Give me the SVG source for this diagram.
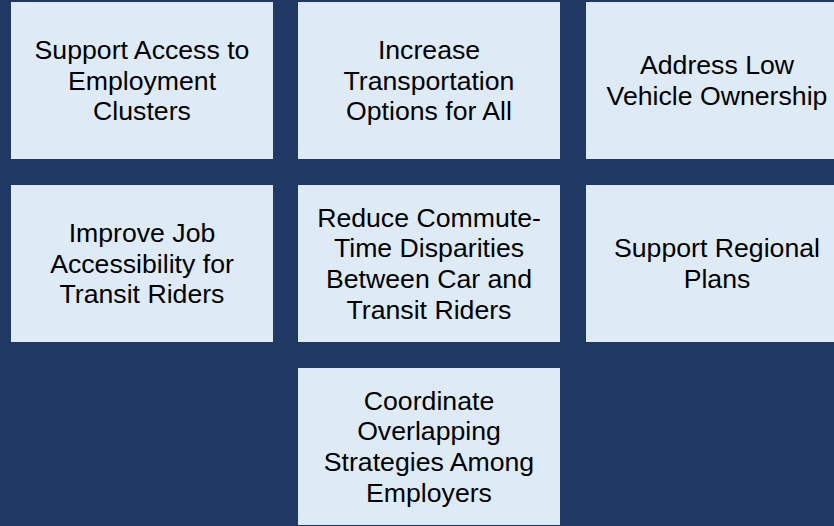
<svg xmlns="http://www.w3.org/2000/svg" width="834" height="526" viewBox="0 0 834 526">
  <style>
    .box { fill: #DEEBF7; }
    .lbl { font-family: "Liberation Sans", Arial, sans-serif; font-size: 26.67px; fill: #000000; text-anchor: middle; }
  </style>
  <rect x="0" y="0" width="834" height="526" fill="#203864"/>
  <g id="connectors"></g>
  <g id="node-employment-clusters">
    <rect class="box" x="11" y="2" width="262" height="157"/>
    <text class="lbl"><tspan x="142" y="59">Support Access to</tspan><tspan x="142" y="89.7">Employment</tspan><tspan x="142" y="120.3">Clusters</tspan></text>
  </g>
  <g id="node-transportation-options">
    <rect class="box" x="298" y="2" width="262" height="157"/>
    <text class="lbl"><tspan x="429" y="59">Increase</tspan><tspan x="429" y="89.7">Transportation</tspan><tspan x="429" y="120.3">Options for All</tspan></text>
  </g>
  <g id="node-vehicle-ownership">
    <rect class="box" x="586" y="2" width="262" height="157"/>
    <text class="lbl"><tspan x="717" y="74.2">Address Low</tspan><tspan x="717" y="104.8">Vehicle Ownership</tspan></text>
  </g>
  <g id="node-job-accessibility">
    <rect class="box" x="11" y="185" width="262" height="157"/>
    <text class="lbl"><tspan x="142" y="242">Improve Job</tspan><tspan x="142" y="272.7">Accessibility for</tspan><tspan x="142" y="303.3">Transit Riders</tspan></text>
  </g>
  <g id="node-commute-disparities">
    <rect class="box" x="298" y="185" width="262" height="157"/>
    <text class="lbl"><tspan x="429" y="226.5">Reduce Commute-</tspan><tspan x="429" y="257.2">Time Disparities</tspan><tspan x="429" y="287.8">Between Car and</tspan><tspan x="429" y="318.5">Transit Riders</tspan></text>
  </g>
  <g id="node-regional-plans">
    <rect class="box" x="586" y="185" width="262" height="157"/>
    <text class="lbl"><tspan x="717" y="257.2">Support Regional</tspan><tspan x="717" y="287.8">Plans</tspan></text>
  </g>
  <g id="node-coordinate-strategies">
    <rect class="box" x="298" y="368" width="262" height="157"/>
    <text class="lbl"><tspan x="429" y="409.5">Coordinate</tspan><tspan x="429" y="440.2">Overlapping</tspan><tspan x="429" y="470.8">Strategies Among</tspan><tspan x="429" y="501.5">Employers</tspan></text>
  </g>
</svg>
